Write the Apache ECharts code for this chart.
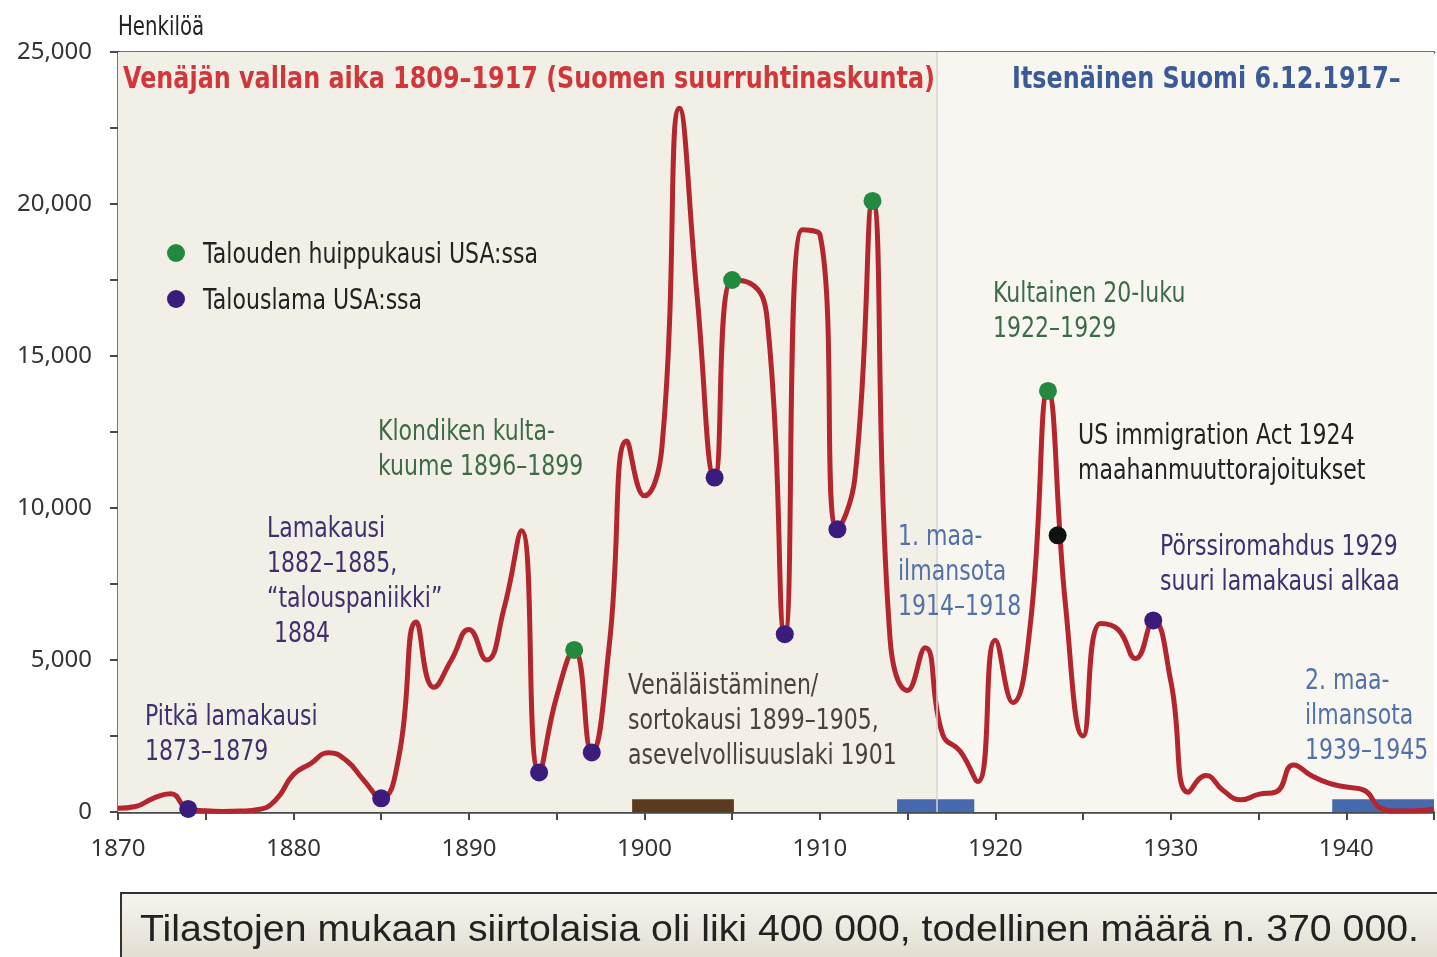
<!DOCTYPE html>
<html>
<head>
<meta charset="utf-8">
<title>Siirtolaisuus Suomesta 1870–1945</title>
<script src="https://cdn.jsdelivr.net/npm/echarts@6/dist/echarts.min.js"></script>
<style>
  html, body { margin: 0; padding: 0; background: #fff; }
  #chart { width: 1437px; height: 957px; }
</style>
</head>
<body>
<div id="chart"></div>
<script>
  // siirtolaiset vuosittain (arvot luettu kuvasta)
  var years = [
    1870, 1871, 1872, 1873, 1874, 1875, 1876, 1877, 1878, 1879,
    1880, 1881, 1882, 1883, 1884, 1885, 1886, 1887, 1888, 1889,
    1890, 1891, 1892, 1893, 1894, 1895, 1896, 1897, 1898, 1899,
    1900, 1901, 1902, 1903, 1904, 1905, 1906, 1907, 1908, 1909,
    1910, 1911, 1912, 1913, 1914, 1915, 1916, 1917, 1918, 1919,
    1920, 1921, 1922, 1923, 1924, 1925, 1926, 1927, 1928, 1929,
    1930, 1931, 1932, 1933, 1934, 1935, 1936, 1937, 1938, 1939,
    1940, 1941, 1942, 1943, 1944, 1945
  ];
  var emigrants = [
    120, 180, 450, 600, 100, 40, 20, 30, 80, 400,
    1230, 1600, 1950, 1700, 1050, 450, 1800, 6250, 4100, 5000,
    6000, 5000, 6700, 9250, 1300, 3800, 5330, 1960, 5500, 12200,
    10400, 12000, 23150, 17000, 11000, 17500, 17400, 16200, 5850, 19150,
    19000, 9300, 11000, 20100, 5700, 4000, 5400, 2550, 2000, 1000,
    5650, 3600, 6200, 13850, 6800, 2500, 6200, 6000, 5050, 6300,
    4300, 650, 1200, 700, 400, 580, 660, 1550, 1200, 950,
    820, 720, 120, 30, 40, 100
  ];

  // merkityt vuodet
  var boomYears = [1896, 1905, 1913, 1923];
  var slumpYears = [1874, 1885, 1894, 1897, 1904, 1908, 1911, 1929];
  var actPoint = [1923.55, 9100];

  // jaksot akselin päällä
  var russification = [1899.3, 1905.1];
  var worldWar1 = [1914.4, 1918.8];
  var worldWar2 = [1939.2, 1945];
  var independence = 1916.65;

  var yTicks = [0, 5000, 10000, 15000, 20000, 25000];

  var boomName = 'Talouden huippukausi USA:ssa';
  var slumpName = 'Talouslama USA:ssa';

  var font = '"DejaVu Sans", sans-serif';

  function valueOf(y) {
    return [y, emigrants[years.indexOf(y)]];
  }

  var lineData = years.map(function (y, i) { return [y, emigrants[i]]; });

  // kapeutettu teksti (alkuperäinen fontti on condensed)
  function note(left, top, text, color, size, weight) {
    return {
      type: 'text',
      left: left,
      top: top,
      z: 100,
      scaleX: weight === 'bold' ? 0.77 : 0.76,
      originX: 0,
      style: {
        text: text,
        fill: color,
        font: (weight || 'normal') + ' ' + (size || 29) + 'px ' + font,
        lineHeight: 35
      }
    };
  }

  var chart = echarts.init(document.getElementById('chart'));

  var option = {
    animation: false,
    grid: { left: 118, right: 1, top: 52, bottom: 145 },
    legend: {
      orient: 'vertical',
      left: 162,
      top: 239,
      itemWidth: 18,
      itemHeight: 18,
      itemGap: 28,
      icon: 'circle',
      selectedMode: false,
      data: [boomName, slumpName],
      formatter: function () { return ''; }
    },
    xAxis: [
      {
        type: 'value',
        min: 1870,
        max: 1945,
        interval: 5,
        axisLine: { lineStyle: { color: '#4a4a4a', width: 2.5 } },
        axisTick: { show: true, length: 8, lineStyle: { color: '#4a4a4a', width: 2 } },
        axisLabel: {
          margin: 25,
          fontFamily: '"Noto Sans", sans-serif',
          fontSize: 24,
          color: '#333',
          formatter: function (v) { return v % 10 === 0 ? String(v) : ''; }
        },
        splitLine: { show: false }
      },
      {
        type: 'value',
        position: 'top',
        min: 1870,
        max: 1945,
        axisLine: { show: true, lineStyle: { color: '#4a4a4a', width: 2.5 } },
        axisTick: { show: false },
        axisLabel: { show: false },
        splitLine: { show: false }
      }
    ],
    yAxis: {
      type: 'value',
      min: yTicks[0],
      max: yTicks[yTicks.length - 1],
      interval: 5000,
      axisLine: { show: true, lineStyle: { color: '#4a4a4a', width: 2.5 } },
      axisTick: { show: true, length: 8, lineStyle: { color: '#4a4a4a', width: 2 } },
      minorTick: { show: true, splitNumber: 2, length: 8, lineStyle: { color: '#4a4a4a', width: 2 } },
      minorSplitLine: { show: false },
      axisLabel: {
        margin: 26,
        fontFamily: '"Noto Sans", sans-serif',
        fontSize: 24,
        color: '#333',
        formatter: function (v) { return v.toLocaleString('en-US'); }
      },
      splitLine: {
        show: true,
        lineStyle: { color: '#9a9a9a', type: [5, 4], width: 1.3 }
      }
    },
    series: [
      {
        // taustat, jakoviiva ja jaksopalkit
        name: 'tausta',
        type: 'line',
        data: [],
        z: -1,
        silent: true,
        markArea: {
          silent: true,
          data: [
            [{ xAxis: 1870, yAxis: 0, itemStyle: { color: '#f2efe6' } }, { xAxis: independence, yAxis: 25000 }],
            [{ xAxis: independence, yAxis: 0, itemStyle: { color: '#f7f6f1' } }, { xAxis: 1945, yAxis: 25000 }],
            [{ xAxis: russification[0], yAxis: 0, itemStyle: { color: '#5b3a1e' } }, { xAxis: russification[1], yAxis: 420 }],
            [{ xAxis: worldWar1[0], yAxis: 0, itemStyle: { color: '#4668ad' } }, { xAxis: worldWar1[1], yAxis: 420 }],
            [{ xAxis: worldWar2[0], yAxis: 0, itemStyle: { color: '#4668ad' } }, { xAxis: worldWar2[1], yAxis: 420 }]
          ]
        },
        markLine: {
          silent: true,
          symbol: 'none',
          label: { show: false },
          lineStyle: { color: '#d4d4d0', type: 'solid', width: 1.5 },
          data: [{ xAxis: independence }]
        }
      },
      {
        name: 'Siirtolaiset',
        type: 'line',
        data: lineData,
        smooth: 0.5,
        showSymbol: false,
        z: 3,
        lineStyle: { color: '#b3262e', width: 5 }
      },
      {
        name: boomName,
        type: 'scatter',
        data: boomYears.map(valueOf),
        symbolSize: 18,
        z: 4,
        itemStyle: { color: '#23893e', opacity: 1 }
      },
      {
        name: slumpName,
        type: 'scatter',
        data: slumpYears.map(valueOf),
        symbolSize: 18,
        z: 4,
        itemStyle: { color: '#3b1c7c', opacity: 1 }
      },
      {
        name: 'US immigration Act 1924',
        type: 'scatter',
        data: [actPoint],
        symbolSize: 18,
        z: 4,
        itemStyle: { color: '#111', opacity: 1 }
      }
    ],
    graphic: [
      note(118, 11, 'Henkilöä', '#222', 26),
      note(123, 62, 'Venäjän vallan aika 1809–1917 (Suomen suurruhtinaskunta)', '#d1363b', 31, 'bold'),
      note(1012, 62, 'Itsenäinen Suomi 6.12.1917–', '#3a5b98', 31, 'bold'),
      note(203, 238, boomName, '#222'),
      note(203, 284, slumpName, '#222'),
      note(378, 415, 'Klondiken kulta-\nkuume 1896–1899', '#3c6b46'),
      note(267, 512, 'Lamakausi\n1882–1885,\n“talouspaniikki”\n 1884', '#3e2f6e'),
      note(145, 700, 'Pitkä lamakausi\n1873–1879', '#3e2f6e'),
      note(628, 669, 'Venäläistäminen/\nsortokausi 1899–1905,\nasevelvollisuuslaki 1901', '#4b4237'),
      note(898, 520, '1. maa-\nilmansota\n1914–1918', '#5271a8'),
      note(993, 277, 'Kultainen 20-luku\n1922–1929', '#3c6b46'),
      note(1078, 419, 'US immigration Act 1924\nmaahanmuuttorajoitukset', '#222'),
      note(1160, 530, 'Pörssiromahdus 1929\nsuuri lamakausi alkaa', '#3e2f6e'),
      note(1305, 664, '2. maa-\nilmansota\n1939–1945', '#5271a8'),
      {
        type: 'rect',
        z: 100,
        shape: { x: 121, y: 893, width: 1330, height: 80 },
        style: {
          fill: new echarts.graphic.LinearGradient(0, 0, 0, 1, [
            { offset: 0, color: '#f7f5ef' },
            { offset: 1, color: '#dcd8cb' }
          ]),
          stroke: '#333',
          lineWidth: 2
        }
      },
      {
        type: 'text',
        left: 140,
        top: 913,
        z: 101,
        scaleX: 1.09,
        originX: 0,
        style: {
          text: 'Tilastojen mukaan siirtolaisia oli liki 400 000, todellinen määrä n. 370 000.',
          fill: '#222',
          font: 'normal 36px "Liberation Sans", Arial, sans-serif'
        }
      }
    ]
  };

  chart.setOption(option);
</script>
</body>
</html>
